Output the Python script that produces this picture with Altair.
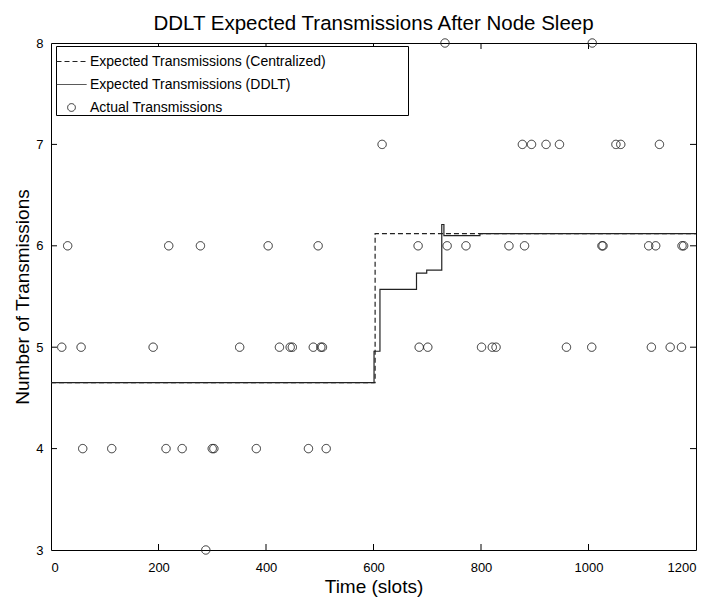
import altair as alt
import pandas as pd

# ---------------- data ----------------
# non-breaking spaces closed by a zero-width space so that Vega keeps them;
# they widen the legend frame as in the reference
LEGEND_PAD = "\u00a0" * 21 + "\u200b"
S_C = "Expected Transmissions (Centralized)" + LEGEND_PAD
S_D = "Expected Transmissions (DDLT)"
S_A = "Actual Transmissions"

central_t = [0, 603, 1200]
central_v = [4.65, 6.12, 6.12]

ddlt_t = [0, 601, 612, 680, 699, 727, 731, 798, 1200]
ddlt_v = [4.65, 4.96, 5.57, 5.73, 5.76, 6.21, 6.10, 6.12, 6.12]

actual_at_3 = [288]
actual_at_4 = [59, 113, 214, 244, 300, 303, 382, 479, 512]
actual_at_5 = [20, 56, 190, 351, 425, 445, 449, 488, 502, 505, 685, 701,
               801, 821, 828, 959, 1006, 1117, 1152, 1173]
actual_at_6 = [31, 219, 278, 404, 497, 683, 737, 772, 852, 881, 1025, 1027,
               1112, 1125, 1174, 1177]
actual_at_7 = [616, 877, 894, 921, 946, 1051, 1060, 1132]
actual_at_8 = [733, 1007]

x_ticks = [0, 200, 400, 600, 800, 1000, 1200]
y_ticks = [3, 4, 5, 6, 7, 8]
x_inner = [200, 400, 600, 800, 1000]
y_inner = [4, 5, 6, 7]

# ---------------- tables ----------------
lines_df = pd.concat([
    pd.DataFrame({"t": central_t, "v": central_v, "series": S_C}),
    pd.DataFrame({"t": ddlt_t, "v": ddlt_v, "series": S_D}),
])
rows = []
for lvl, ts in [(3, actual_at_3), (4, actual_at_4), (5, actual_at_5),
                (6, actual_at_6), (7, actual_at_7), (8, actual_at_8)]:
    for t in ts:
        rows.append({"t": t, "v": lvl, "series": S_A})
pts_df = pd.DataFrame(rows)
xt_df = pd.DataFrame({"t": x_inner})
yt_df = pd.DataFrame({"v": y_inner})

W, H = 645, 507
FONT = "Liberation Sans"
INK = "#222222"

xscale = alt.Scale(domain=[0, 1200], nice=False, zero=False)
yscale = alt.Scale(domain=[3, 8], nice=False, zero=False)

xaxis = alt.Axis(title="Time (slots)", values=x_ticks, format="d", ticks=False,
                 tickSize=0, domain=False, grid=False, labelPadding=11,
                 labelFontSize=13, labelFont=FONT, labelColor="black",
                 titleFont=FONT, titleFontSize=19, titleFontWeight="normal",
                 titleColor="black", titlePadding=3)
yaxis = alt.Axis(title="Number of Transmissions", values=y_ticks, format="d",
                 ticks=False, tickSize=0, domain=False, grid=False,
                 labelPadding=8, labelFontSize=13, labelFont=FONT,
                 labelColor="black", titleFont=FONT, titleFontSize=19,
                 titleFontWeight="normal", titleColor="black", titlePadding=3)

is_actual = "datum.value === 'Actual Transmissions'"
legend = alt.Legend(
    title=None, orient="none", legendX=5, legendY=3,
    fillColor="white", strokeColor="black", padding=0,
    labelFont=FONT, labelFontSize=14, labelColor="black", labelLimit=600,
    rowPadding=-4, labelOffset=3,
    symbolType=alt.ExprRef(expr=f"{is_actual} ? 'circle' : 'stroke'"),
    symbolSize=alt.ExprRef(expr=f"{is_actual} ? 60 : 900"),
    symbolStrokeColor=INK, symbolFillColor="transparent", symbolStrokeWidth=1,
)

dash = alt.StrokeDash(
    "series:N",
    scale=alt.Scale(domain=[S_C, S_D, S_A], range=[[5, 3], [1, 0], [1, 0]]),
    legend=legend,
)

lines = alt.Chart(lines_df).mark_line(interpolate="step-after", color=INK,
                                      strokeWidth=1.2).encode(
    x=alt.X("t:Q", scale=xscale, axis=xaxis),
    y=alt.Y("v:Q", scale=yscale, axis=yaxis),
    strokeDash=dash,
    detail="series:N",
)

points = alt.Chart(pts_df).mark_point(shape="circle", filled=False, color=INK,
                                      size=70, strokeWidth=1, opacity=1).encode(
    x=alt.X("t:Q", scale=xscale),
    y=alt.Y("v:Q", scale=yscale),
    strokeDash=dash,
)

tick_len = 6
bottom_ticks = alt.Chart(xt_df).mark_rule(color="black", strokeWidth=1).encode(
    x=alt.X("t:Q", scale=xscale), y=alt.value(H), y2=alt.value(H - tick_len))
top_ticks = alt.Chart(xt_df).mark_rule(color="black", strokeWidth=1).encode(
    x=alt.X("t:Q", scale=xscale), y=alt.value(0), y2=alt.value(tick_len))
left_ticks = alt.Chart(yt_df).mark_rule(color="black", strokeWidth=1).encode(
    y=alt.Y("v:Q", scale=yscale), x=alt.value(0), x2=alt.value(tick_len))
right_ticks = alt.Chart(yt_df).mark_rule(color="black", strokeWidth=1).encode(
    y=alt.Y("v:Q", scale=yscale), x=alt.value(W), x2=alt.value(W - tick_len))

chart = alt.layer(
    bottom_ticks, top_ticks, left_ticks, right_ticks, lines, points
).properties(
    width=W, height=H,
    title=alt.TitleParams("DDLT Expected Transmissions After Node Sleep",
                          font=FONT, fontSize=20.5, fontWeight="normal",
                          color="black", anchor="middle", offset=2),
    autosize=alt.AutoSizeParams(type="none"),
    padding={"left": 43, "top": 35, "right": 11, "bottom": 47},
    background="white",
).configure_view(stroke="black", strokeWidth=1)

chart.save("out.html", embed_options={"renderer": "svg", "actions": False})
